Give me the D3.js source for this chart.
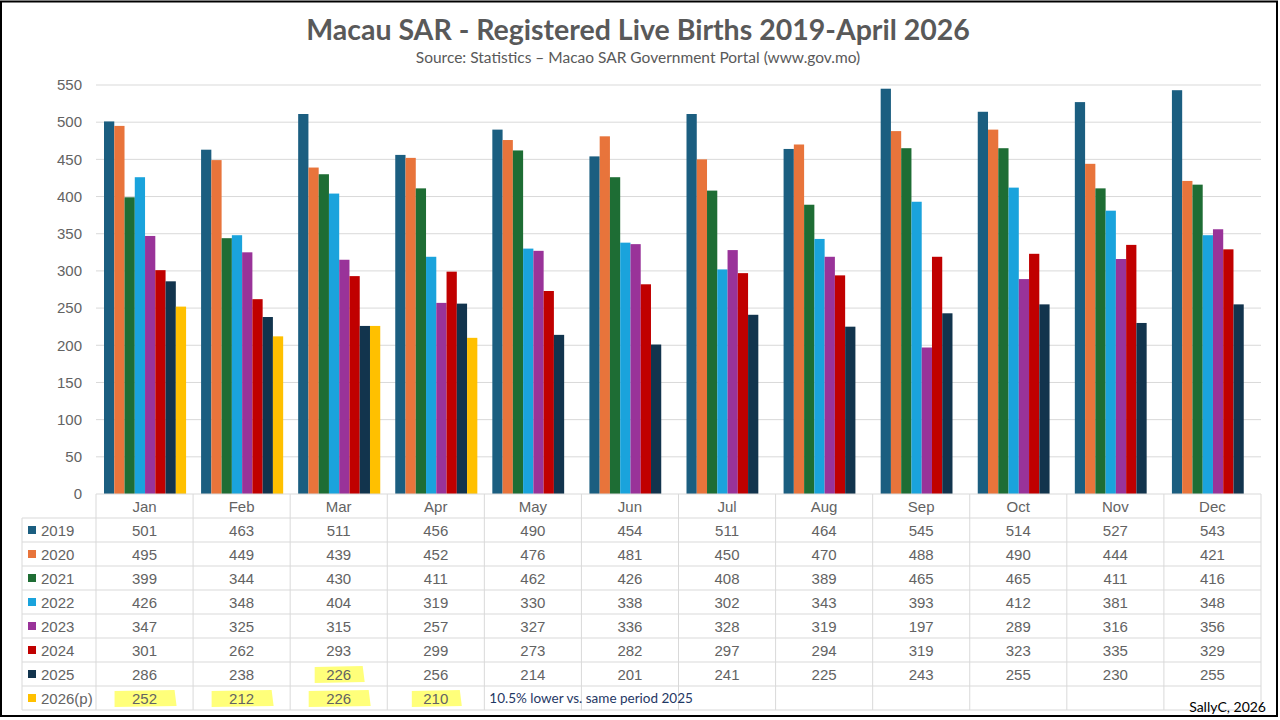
<!DOCTYPE html>
<html><head><meta charset="utf-8">
<script src="https://cdn.jsdelivr.net/npm/d3@7/dist/d3.min.js"></script>
<style>body{margin:0;background:#fff;}svg{display:block;}</style>
</head><body>
<svg id="chart" width="1280" height="720"></svg>
<script>
const months = ["Jan","Feb","Mar","Apr","May","Jun","Jul","Aug","Sep","Oct","Nov","Dec"];
const seriesNames = ["2019","2020","2021","2022","2023","2024","2025","2026(p)"];
const v2019 = [501,463,511,456,490,454,511,464,545,514,527,543];
const v2020 = [495,449,439,452,476,481,450,470,488,490,444,421];
const v2021 = [399,344,430,411,462,426,408,389,465,465,411,416];
const v2022 = [426,348,404,319,330,338,302,343,393,412,381,348];
const v2023 = [347,325,315,257,327,336,328,319,197,289,316,356];
const v2024 = [301,262,293,299,273,282,297,294,319,323,335,329];
const v2025 = [286,238,226,256,214,201,241,225,243,255,230,255];
const v2026 = [252,212,226,210,null,null,null,null,null,null,null,null];
const yTicks = [0,50,100,150,200,250,300,350,400,450,500,550];
const colors = ["#1b5e80","#e8743b","#1e6d34","#1aa3dc","#993399","#c00000","#12344d","#ffc000"];
const titleText = "Macau SAR - Registered Live Births 2019-April 2026";
const subtitleText = "Source: Statistics \u2013 Macao SAR Government Portal (www.gov.mo)";
const noteText = "10.5% lower vs. same period 2025";
const creditText = "SallyC, 2026";

const allSeries = [v2019,v2020,v2021,v2022,v2023,v2024,v2025,v2026];
const svg = d3.select("#chart");
const font = "'Liberation Sans', Arial, sans-serif";
const txtCol = "#636363";

const pLeft = 96, pRight = 1261, pTop = 85, pBottom = 494;
const x = d3.scaleBand().domain(months).range([pLeft, pRight]).paddingInner(0).paddingOuter(0);
const y = d3.scaleLinear().domain([0,550]).range([pBottom, pTop]);
const x1 = d3.scaleBand().domain(seriesNames).range([8, x.bandwidth()-7]).padding(0);

// outer border
svg.append("rect").attr("x",1).attr("y",1.5).attr("width",1276).attr("height",714.5)
  .attr("fill","none").attr("stroke","#000").attr("stroke-width",2);

// title
svg.append("text").attr("x",638).attr("y",40).attr("text-anchor","middle")
  .attr("font-family","Lato, 'Open Sans', sans-serif").attr("font-weight","bold")
  .attr("font-size",28.5).attr("fill","#595959").text(titleText);
svg.append("text").attr("x",638).attr("y",63).attr("text-anchor","middle")
  .attr("font-family","Lato, sans-serif").attr("font-size",15.5).attr("fill","#595959").text(subtitleText);

// gridlines
svg.append("g").selectAll("line").data(yTicks.filter(d=>d>0)).join("line")
  .attr("x1",pLeft).attr("x2",pRight).attr("y1",d=>y(d)).attr("y2",d=>y(d))
  .attr("stroke","#d9d9d9").attr("stroke-width",1);

// y axis labels
const yAxis = d3.axisLeft(y).tickValues(yTicks).tickSize(0).tickPadding(14);
const ya = svg.append("g").attr("transform",`translate(${pLeft},0)`).call(yAxis);
ya.select(".domain").remove();
ya.selectAll("text").attr("font-family",font).attr("font-size",15).attr("fill",txtCol);

// bars
const gMonths = svg.append("g").selectAll("g").data(months).join("g")
  .attr("transform",d=>`translate(${x(d)},0)`);
gMonths.selectAll("rect").data((m,i)=>seriesNames.map((s,k)=>({s,k,v:allSeries[k][i]})).filter(d=>d.v!=null))
  .join("rect")
  .attr("x",d=>x1(d.s)).attr("width",x1.bandwidth())
  .attr("y",d=>y(d.v)).attr("height",d=>y(0)-y(d.v))
  .attr("fill",d=>colors[d.k]);

// data table
const rowH = 24;
const headerTop = pBottom, firstRow = pBottom + rowH;
const tableBottom = firstRow + rowH*seriesNames.length;
const legLeft = 22;
const tg = svg.append("g");
for (let r=0; r<=seriesNames.length; r++){
  tg.append("line").attr("x1",legLeft).attr("x2",pRight)
    .attr("y1",firstRow + r*rowH).attr("y2",firstRow + r*rowH)
    .attr("stroke","#d9d9d9");
}
const bounds = months.map(m=>x(m)).concat([pRight]);
bounds.forEach(b=>{
  tg.append("line").attr("x1",b).attr("x2",b).attr("y1",headerTop).attr("y2",tableBottom).attr("stroke","#d9d9d9");
});
tg.append("line").attr("x1",legLeft).attr("x2",legLeft).attr("y1",firstRow).attr("y2",tableBottom).attr("stroke","#d9d9d9");
tg.append("line").attr("x1",pLeft).attr("x2",pRight).attr("y1",pBottom).attr("y2",pBottom).attr("stroke","#d9d9d9");

// highlights
const hl = [{r:7,c:0},{r:7,c:1},{r:7,c:2},{r:6,c:2},{r:7,c:3}];
tg.selectAll("path.hl").data(hl).join("path").attr("class","hl")
  .attr("d",d=>{
    const cx = x(months[d.c]) + x.bandwidth()/2;
    const cy = firstRow + d.r*rowH + rowH/2;
    const w = d.r===6 ? 24 : (d.c===3?24:30);
    return `M${cx-w},${cy-7} L${cx+w},${cy-8} L${cx+w+2},${cy+8} L${cx-w},${cy+9} Z`;
  })
  .attr("fill","#ffff4d").attr("opacity",0.75);

tg.selectAll("text.mh").data(months).join("text").attr("class","mh")
  .attr("x",d=>x(d)+x.bandwidth()/2).attr("y",headerTop+rowH/2+5.5)
  .attr("text-anchor","middle").attr("font-family",font).attr("font-size",15).attr("fill",txtCol).text(d=>d);

seriesNames.forEach((s,k)=>{
  const cy = firstRow + k*rowH + rowH/2;
  tg.append("rect").attr("x",28).attr("y",cy-4).attr("width",8).attr("height",8).attr("fill",colors[k]);
  tg.append("text").attr("x",41).attr("y",cy+5.5).attr("font-family",font).attr("font-size",15)
    .attr("fill",txtCol).text(s);
  allSeries[k].forEach((v,i)=>{
    if (v==null) return;
    tg.append("text").attr("x",x(months[i])+x.bandwidth()/2).attr("y",cy+5.5)
      .attr("text-anchor","middle").attr("font-family",font).attr("font-size",15)
      .attr("fill",txtCol).text(v);
  });
});

svg.append("text").attr("x",x("May")+5).attr("y",firstRow+7*rowH+rowH/2+5)
  .attr("font-family","Lato, sans-serif").attr("font-size",13.5).attr("fill","#1f3864").text(noteText);
svg.append("text").attr("x",1266).attr("y",712).attr("text-anchor","end")
  .attr("font-family","Lato, sans-serif").attr("font-size",14).attr("fill","#000").text(creditText);
</script>
</body></html>
